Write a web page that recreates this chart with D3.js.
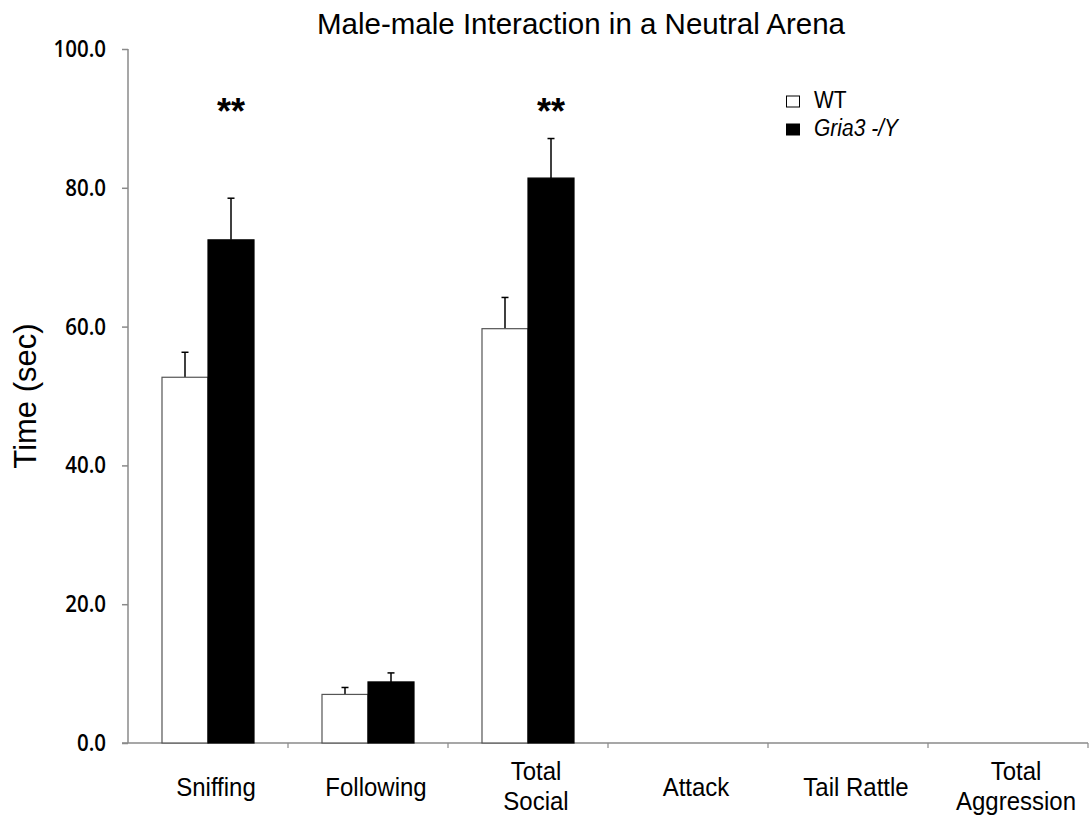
<!DOCTYPE html>
<html>
<head>
<meta charset="utf-8">
<script src="https://cdn.jsdelivr.net/npm/d3@7"></script>
<style>
  html, body { margin: 0; padding: 0; background: #fff; }
  svg { display: block; }
  text { font-family: "Liberation Sans", Arial, sans-serif; fill: #000; }
</style>
</head>
<body>
<svg id="chart" width="1092" height="816"></svg>
<script>
// Behaviour categories (multi-line labels split on "|")
const categories = ["Sniffing", "Following", "Total|Social", "Attack", "Tail Rattle", "Total|Aggression"];
const series = ["WT", "Gria3 -/Y"];
// Mean time (sec) and SEM per genotype
const wtMeans = [52.7, 7.0, 59.7, 0, 0, 0];
const wtErrors = [3.6, 1.0, 4.5, 0, 0, 0];
const koMeans = [72.5, 8.8, 81.4, 0, 0, 0];
const koErrors = [6.0, 1.3, 5.7, 0, 0, 0];
// Significance markers above the knockout bars
const significance = ["**", "", "**", "", "", ""];
const yTicks = [0, 20, 40, 60, 80, 100];

const svg = d3.select("#chart");
const margin = { left: 128, right: 4, top: 49, bottom: 73 };
const W = 1092, H = 816;
const stretch = 1.1; // text is drawn slightly taller than wide

const x0 = d3.scaleBand()
  .domain(categories)
  .range([margin.left, W - margin.right])
  .padding(0);

const x1 = d3.scaleBand()
  .domain(series)
  .range([0, x0.bandwidth()])
  .paddingInner(0)
  .paddingOuter(0.739);

const y = d3.scaleLinear()
  .domain([0, 100])
  .range([H - margin.bottom, margin.top]);

const axisColor = "#8a8a8a";

// Y axis
const yAxis = d3.axisLeft(y).tickValues(yTicks).tickSize(6).tickFormat(d3.format(".1f"));
const gy = svg.append("g")
  .attr("transform", `translate(${margin.left},0)`)
  .call(yAxis);
gy.select(".domain").attr("stroke", axisColor).attr("stroke-width", 1.5)
  .attr("d", `M0,${y(100)}H0V${y(0)}`);
gy.selectAll(".tick line").attr("stroke", axisColor).attr("stroke-width", 1.5);
gy.selectAll(".tick text")
  .attr("x", null)
  .attr("dy", null)
  .attr("transform", `translate(-22,7.5) scale(1,${stretch})`)
  .style("font-family", "'Open Sans', 'DejaVu Sans', sans-serif")
  .style("font-size", "20.5px")
  .style("font-weight", "600")
  .attr("fill", "#111");

// X axis: ticks at category boundaries
const boundaries = categories.map(c => x0(c)).concat([x0.range()[1]]);
const gx = svg.append("g").attr("transform", `translate(0,${y(0)})`);
gx.append("line")
  .attr("x1", margin.left - 6).attr("x2", x0.range()[1])
  .attr("stroke", axisColor).attr("stroke-width", 1.5);
gx.selectAll("line.tick")
  .data(boundaries.slice(1))
  .join("line")
  .attr("class", "tick")
  .attr("x1", d => d).attr("x2", d => d)
  .attr("y1", 0).attr("y2", 5)
  .attr("stroke", axisColor).attr("stroke-width", 1.2);

// Category labels
const catLabels = svg.append("g").selectAll("text")
  .data(categories)
  .join("text")
  .attr("text-anchor", "middle")
  .style("font-size", "24px")
  .attr("transform", d => {
    const lines = d.split("|");
    const base = lines.length > 1 ? 780 : 796;
    return `translate(${x0(d) + x0.bandwidth() / 2 + 8},${base}) scale(1,${stretch})`;
  });
catLabels.each(function(d) {
  const lines = d.split("|");
  d3.select(this).selectAll("tspan")
    .data(lines)
    .join("tspan")
    .attr("x", 0)
    .attr("y", (l, i) => i * 30 / stretch)
    .text(l => l);
});

// Bars
const rows = categories.map((c, i) => ({
  cat: c,
  vals: [
    { s: series[0], v: wtMeans[i], e: wtErrors[i] },
    { s: series[1], v: koMeans[i], e: koErrors[i] }
  ]
}));

const groups = svg.append("g").selectAll("g")
  .data(rows)
  .join("g")
  .attr("transform", d => `translate(${x0(d.cat)},0)`);

// Error bars drawn first (upper arm only) so the bar covers the stem base
groups.selectAll("g.err")
  .data(d => d.vals.filter(v => v.e > 0))
  .join("g")
  .attr("class", "err")
  .each(function(d) {
    const cx = x1(d.s) + x1.bandwidth() / 2;
    const g = d3.select(this);
    g.append("line")
      .attr("x1", cx).attr("x2", cx)
      .attr("y1", y(d.v)).attr("y2", y(d.v + d.e))
      .attr("stroke", "#000").attr("stroke-width", 1.5);
    g.append("line")
      .attr("x1", cx - 3.5).attr("x2", cx + 3.5)
      .attr("y1", y(d.v + d.e)).attr("y2", y(d.v + d.e))
      .attr("stroke", "#000").attr("stroke-width", 1.5);
  });

groups.selectAll("rect")
  .data(d => d.vals.filter(v => v.v > 0))
  .join("rect")
  .attr("x", d => x1(d.s))
  .attr("width", x1.bandwidth())
  .attr("y", d => y(d.v))
  .attr("height", d => y(0) - y(d.v))
  .attr("fill", d => d.s === series[0] ? "#fff" : "#000")
  .attr("stroke", d => d.s === series[0] ? "#555" : "#000")
  .attr("stroke-width", 1.2);

// Significance stars
svg.append("g").selectAll("text")
  .data(categories.map((c, i) => ({ c, s: significance[i] })).filter(d => d.s))
  .join("text")
  .attr("x", d => x0(d.c) + x1(series[1]) + x1.bandwidth() / 2)
  .attr("y", 124)
  .attr("text-anchor", "middle")
  .style("font-size", "36px")
  .style("font-weight", "bold")
  .text(d => d.s);

// Title
svg.append("text")
  .attr("x", 581).attr("y", 34)
  .attr("text-anchor", "middle")
  .style("font-size", "29.5px")
  .text("Male-male Interaction in a Neutral Arena");

// Y axis title
svg.append("text")
  .attr("transform", "translate(36,396) rotate(-90)")
  .attr("text-anchor", "middle")
  .style("font-size", "31px")
  .text("Time (sec)");

// Legend
const legend = svg.append("g").attr("transform", "translate(786,0)");
const legendRows = [
  { s: series[0], y: 96, fill: "#fff", italic: false },
  { s: series[1], y: 124, fill: "#000", italic: true }
];
legend.selectAll("rect")
  .data(legendRows)
  .join("rect")
  .attr("x", 0.5).attr("y", d => d.y)
  .attr("width", 13).attr("height", 11)
  .attr("fill", d => d.fill)
  .attr("stroke", "#000").attr("stroke-width", 1);
legend.selectAll("text")
  .data(legendRows)
  .join("text")
  .attr("transform", d => `translate(28,${d.y + 12}) scale(1,${stretch})`)
  .style("font-size", "21px")
  .style("font-style", d => d.italic ? "italic" : "normal")
  .text(d => d.s);
</script>
</body>
</html>
